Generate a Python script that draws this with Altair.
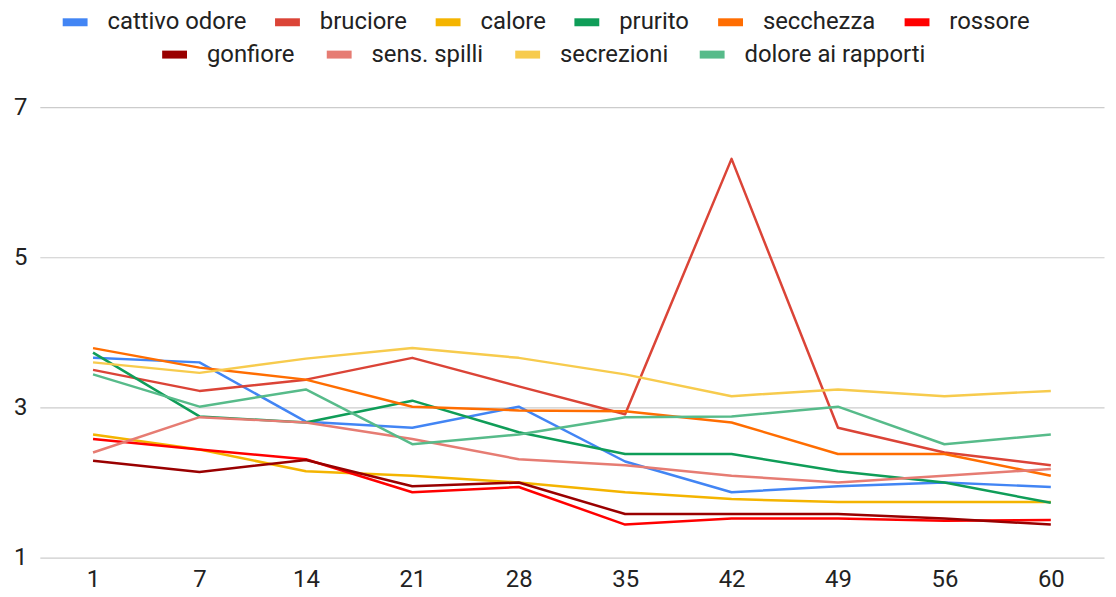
import altair as alt
import pandas as pd

days = ["1", "7", "14", "21", "28", "35", "42", "49", "56", "60"]

names_row1 = ["cattivo odore", "bruciore", "calore", "prurito", "secchezza", "rossore"]
names_row2 = ["gonfiore", "sens. spilli", "secrezioni", "dolore ai rapporti"]

colors_row1 = ["#4285F4", "#DB4437", "#F4B400", "#0F9D58", "#FF6D01", "#FF0000"]
colors_row2 = ["#990000", "#E67C73", "#F7CB4D", "#57BB8A"]

cattivo_odore = [3.66, 3.60, 2.81, 2.73, 3.01, 2.28, 1.87, 1.95, 2.00, 1.94]
bruciore = [3.50, 3.22, 3.37, 3.66, 3.28, 2.91, 6.31, 2.73, 2.40, 2.23]
calore = [2.64, 2.44, 2.15, 2.09, 2.00, 1.87, 1.78, 1.74, 1.74, 1.74]
prurito = [3.73, 2.88, 2.80, 3.09, 2.67, 2.38, 2.38, 2.15, 2.00, 1.73]
secchezza = [3.79, 3.53, 3.37, 3.01, 2.96, 2.95, 2.80, 2.38, 2.38, 2.09]
rossore = [2.58, 2.44, 2.31, 1.87, 1.94, 1.44, 1.52, 1.52, 1.49, 1.50]
gonfiore = [2.29, 2.14, 2.30, 1.95, 2.00, 1.58, 1.58, 1.58, 1.52, 1.44]
sens_spilli = [2.40, 2.87, 2.80, 2.58, 2.31, 2.23, 2.09, 2.00, 2.09, 2.18]
secrezioni = [3.60, 3.46, 3.65, 3.79, 3.66, 3.44, 3.15, 3.24, 3.15, 3.22]
dolore_ai_rapporti = [3.44, 3.01, 3.24, 2.51, 2.64, 2.87, 2.88, 3.01, 2.51, 2.64]

series = {
    "cattivo odore": cattivo_odore,
    "bruciore": bruciore,
    "calore": calore,
    "prurito": prurito,
    "secchezza": secchezza,
    "rossore": rossore,
    "gonfiore": gonfiore,
    "sens. spilli": sens_spilli,
    "secrezioni": secrezioni,
    "dolore ai rapporti": dolore_ai_rapporti,
}

rows = []
for order, (name, vals) in enumerate(series.items()):
    for d, v in zip(days, vals):
        rows.append({"serie": name, "giorno": d, "valore": v, "ord": order})
df = pd.DataFrame(rows)

FONT = "Roboto"
FS = 24
TXT = "#222222"

x_enc = alt.X(
    "giorno:N",
    sort=days,
    scale=alt.Scale(domain=days, padding=0.5),
    axis=alt.Axis(title=None, labelAngle=0, ticks=False, domain=False, grid=False,
                  labelFont=FONT, labelFontSize=FS, labelColor=TXT, labelPadding=10),
)
y_enc = alt.Y(
    "valore:Q",
    scale=alt.Scale(domain=[1, 7], nice=False, zero=False),
    axis=alt.Axis(values=[1, 3, 5, 7], title=None, domain=False, ticks=False,
                  gridColor="#cccccc", gridWidth=1.2, labelFont=FONT, labelFontSize=FS,
                  labelColor=TXT, labelPadding=13),
)


def legend(x, y, col_pad):
    return alt.Legend(
        title=None, orient="none", legendX=x, legendY=y, direction="horizontal",
        symbolType="stroke", symbolStrokeWidth=8, symbolSize=625,
        labelFont=FONT, labelFontSize=FS, labelColor=TXT,
        labelOffset=16, columnPadding=col_pad, labelLimit=400,
    )


base = alt.Chart(df)

layer1 = base.transform_filter(
    alt.FieldOneOfPredicate(field="serie", oneOf=names_row1)
).mark_line(strokeWidth=2.5, strokeJoin="round").encode(
    x=x_enc,
    y=y_enc,
    color=alt.Color("serie:N", scale=alt.Scale(domain=names_row1, range=colors_row1),
                    legend=legend(19, -102, 12.5)),
    order="ord:Q",
)

layer2 = base.transform_filter(
    alt.FieldOneOfPredicate(field="serie", oneOf=names_row2)
).mark_line(strokeWidth=2.5, strokeJoin="round").encode(
    x=x_enc,
    y=y_enc,
    color=alt.Color("serie:N", scale=alt.Scale(domain=names_row2, range=colors_row2),
                    legend=legend(119, -69.5, 15.5)),
)

chart = alt.layer(layer1, layer2).resolve_scale(color="independent").properties(
    width=1070,
    height=453,
    autosize=alt.AutoSizeParams(type="none"),
    padding={"left": 32, "top": 98, "right": 4, "bottom": 36},
    background="white",
).configure_view(stroke=None)

chart.save("out.html", embed_options={"renderer": "svg", "actions": False})
